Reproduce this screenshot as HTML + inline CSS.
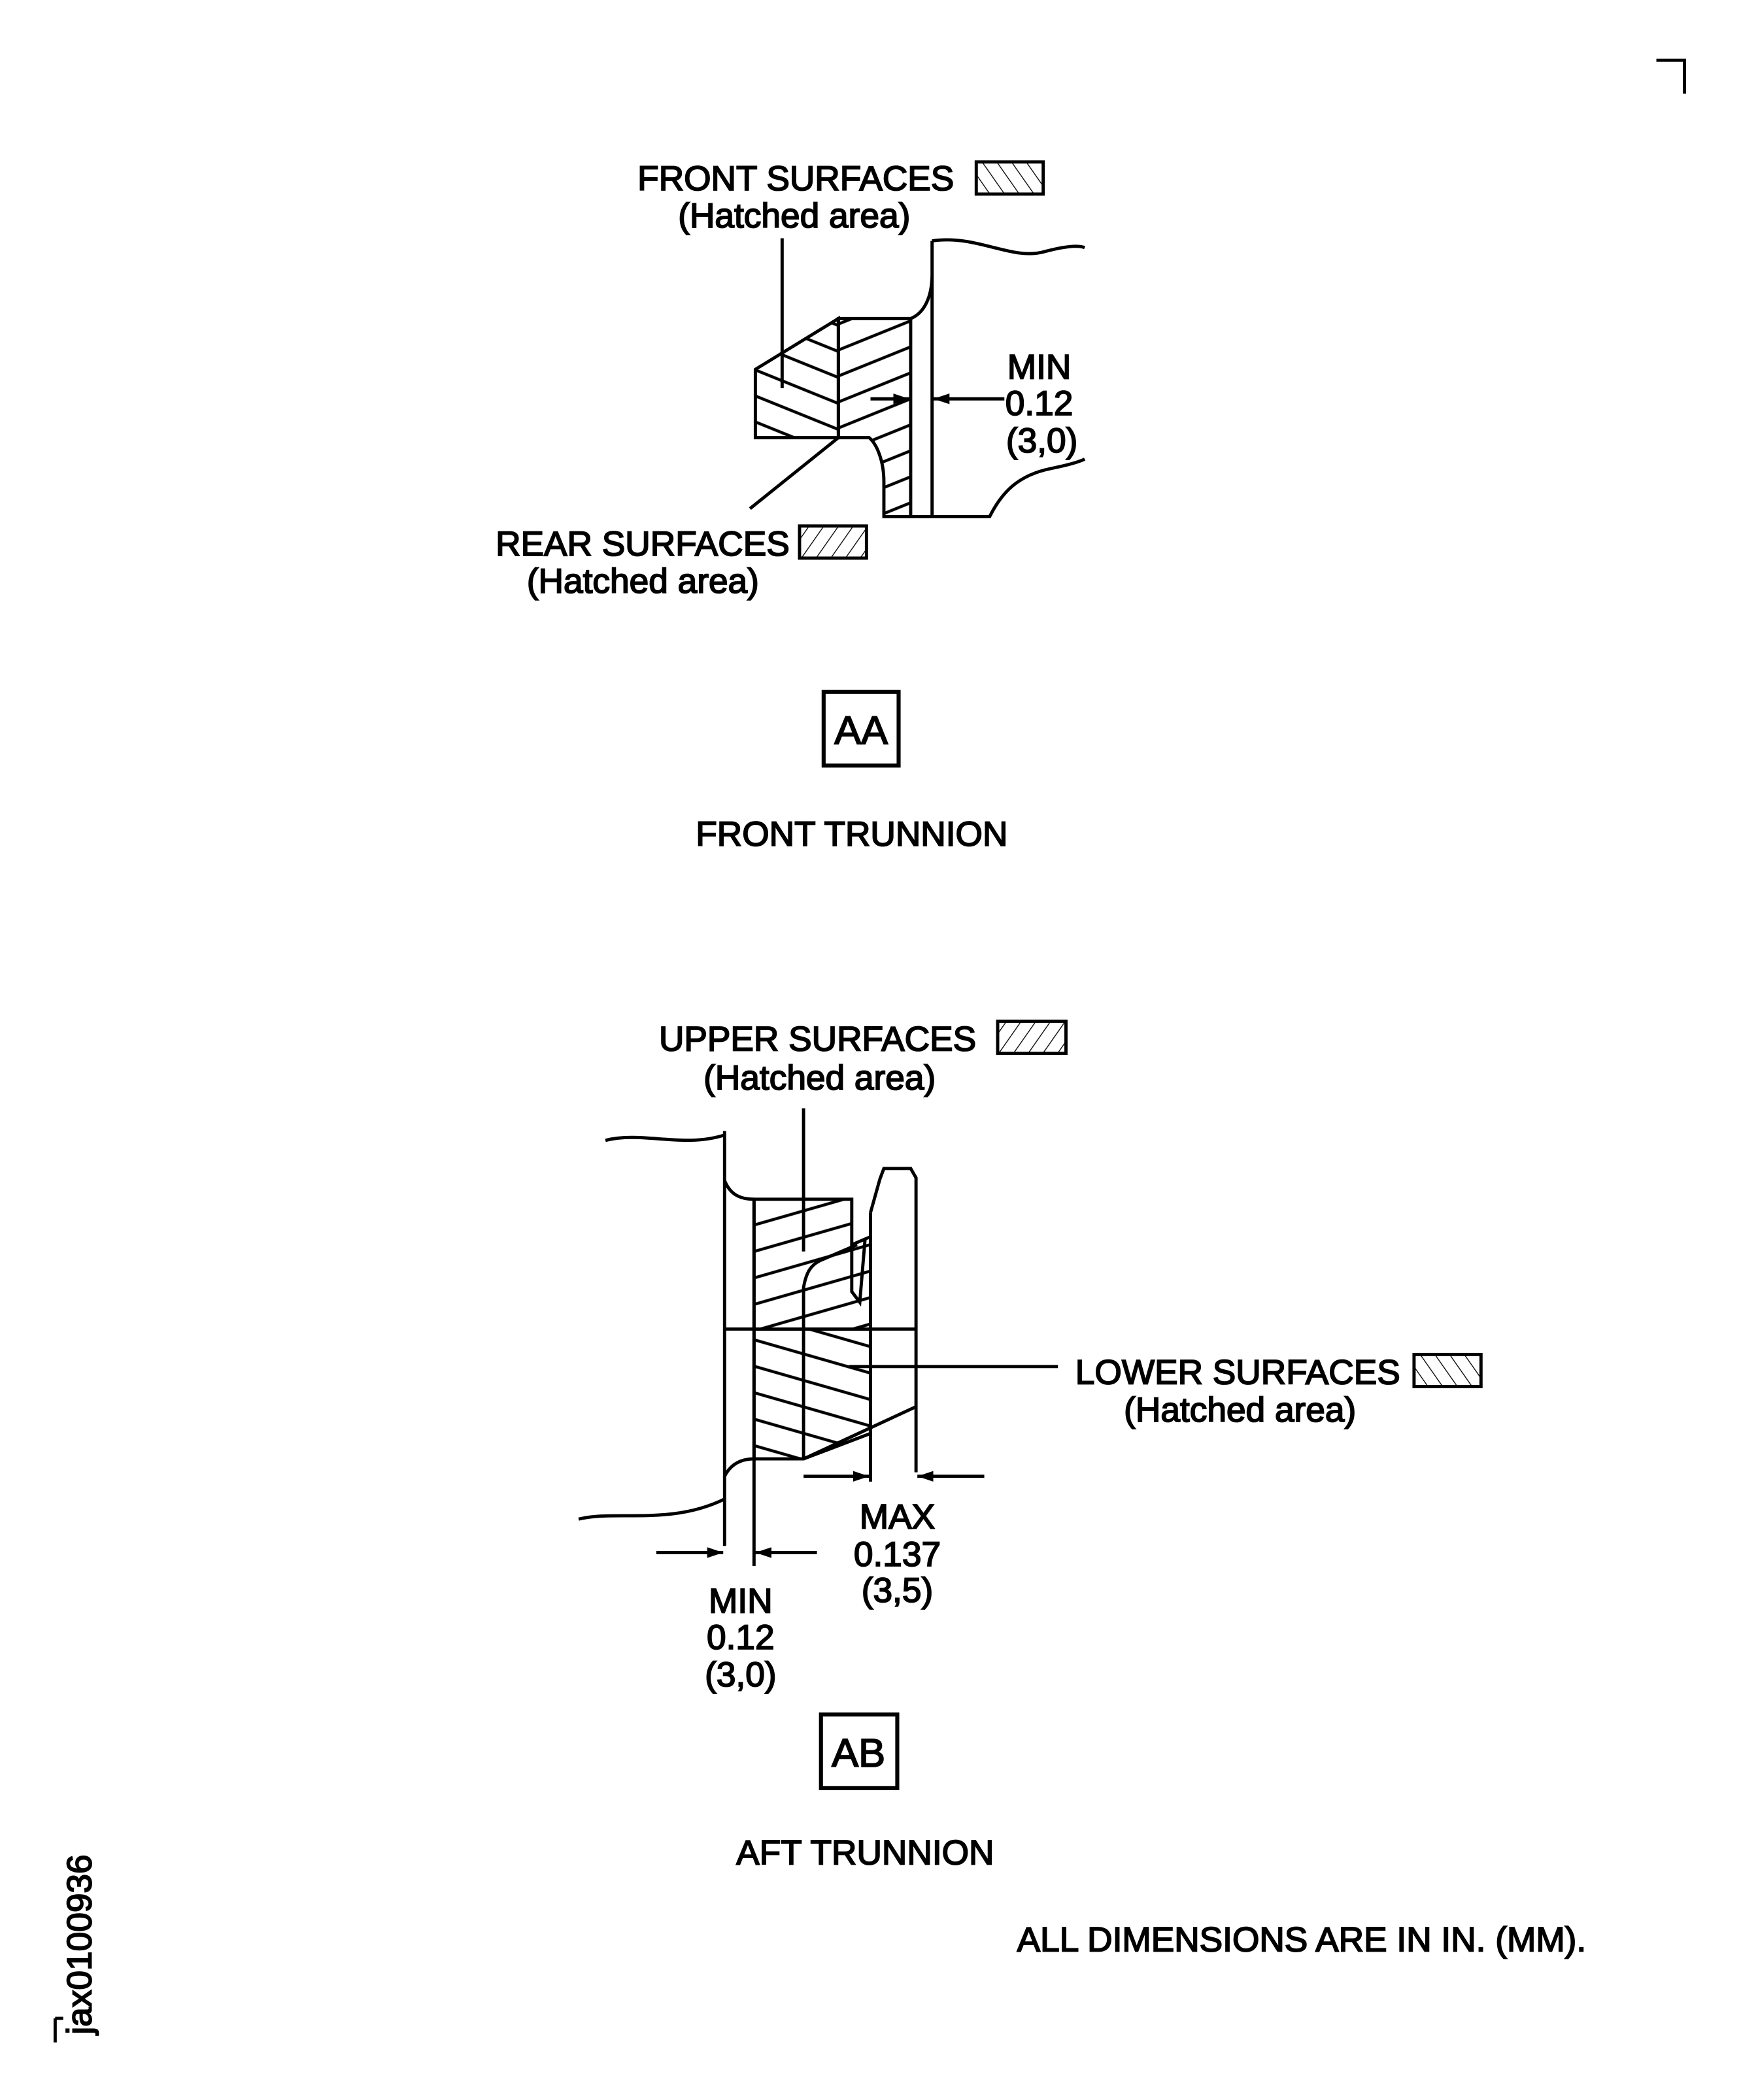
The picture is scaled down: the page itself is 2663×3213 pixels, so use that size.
<!DOCTYPE html>
<html><head><meta charset="utf-8"><style>
html,body{margin:0;padding:0;background:#fff;}
svg{display:block;}
text{font-family:"Liberation Sans",sans-serif;font-size:26px;fill:#000;stroke:#000;stroke-width:0.9px;}
</style></head><body>
<svg width="2663" height="3213" viewBox="0 0 1300 1569" xmlns="http://www.w3.org/2000/svg">
<defs>
<pattern id="fd" patternUnits="userSpaceOnUse" width="40" height="18" patternTransform="rotate(22)"><line x1="0" y1="9" x2="40" y2="9" stroke="#000" stroke-width="2.2"/></pattern>
<pattern id="fu" patternUnits="userSpaceOnUse" width="40" height="18" patternTransform="rotate(-22)"><line x1="0" y1="9" x2="40" y2="9" stroke="#000" stroke-width="2.2"/></pattern>
<pattern id="ad" patternUnits="userSpaceOnUse" width="40" height="19" patternTransform="rotate(16)"><line x1="0" y1="9" x2="40" y2="9" stroke="#000" stroke-width="2.2"/></pattern>
<pattern id="au" patternUnits="userSpaceOnUse" width="40" height="19" patternTransform="rotate(-16)"><line x1="0" y1="9" x2="40" y2="9" stroke="#000" stroke-width="2.2"/></pattern>
<pattern id="bs2" patternUnits="userSpaceOnUse" width="9" height="9" patternTransform="rotate(-35)"><line x1="0" y1="0" x2="0" y2="9" stroke="#000" stroke-width="1.3"/></pattern>
<pattern id="fs2" patternUnits="userSpaceOnUse" width="9" height="9" patternTransform="rotate(35)"><line x1="0" y1="0" x2="0" y2="9" stroke="#000" stroke-width="1.3"/></pattern>
<marker id="ar" markerWidth="12" markerHeight="8" refX="12" refY="4" orient="auto" markerUnits="userSpaceOnUse"><path d="M0,0 L12,4 L0,8 z" fill="#000"/></marker>
</defs>
<g fill="none" stroke="#000" stroke-width="2.4">
<path d="M1237,45 H1258 V70"/>
<rect x="729" y="121" width="50" height="24" fill="url(#bs2)"/>
<rect x="597" y="393" width="50" height="24" fill="url(#fs2)"/>
<path d="M564,276 L626,238 V327 H564 Z" fill="url(#fd)"/>
<path d="M626,238 H680 V386 H660 V360 C660,345 655,332 649,327 H626 Z" fill="url(#fu)"/>
<path d="M696,180 V386 M680,238 C690,234 696,222 696,205"/>
<path d="M696,180 C730,175 755,195 780,188 C795,184 805,183 810,185"/>
<path d="M660,386 H739 C748,368 760,355 785,350 C800,347 806,345 810,343"/>
<path d="M584,178 V290"/>
<path d="M560,380 L626,327"/>
<line x1="650" y1="298" x2="679" y2="298" marker-end="url(#ar)"/>
<line x1="750" y1="298" x2="697" y2="298" marker-end="url(#ar)"/>
<rect x="615" y="517" width="56" height="55" stroke-width="3"/>
<rect x="745" y="763" width="51" height="24" fill="url(#fs2)"/>
<rect x="1056" y="1012" width="50" height="24" fill="url(#bs2)"/>
<path d="M541,845 V1155"/>
<path d="M452,852 C480,845 510,858 541,848"/>
<path d="M432,1135 C460,1128 500,1140 541,1120"/>
<path d="M541,882 C545,892 552,896 563,896"/>
<path d="M541,1103 C545,1095 552,1090 563,1090"/>
<path d="M563,896 V1170"/>
<path d="M563,896 H636 V930 L650,924 V993 H563 Z" fill="url(#au)"/>
<path d="M563,993 H650 V1071 L600,1090 H563 Z" fill="url(#ad)"/>
<path d="M636,930 V965 L642,973 L646,925"/>
<path d="M600,1090 V962 C602,950 606,945 612,942 L640,930"/>
<path d="M541,993 H684"/>
<path d="M650,906 L657,881 L660,873 H680 L684,880 V1100"/>
<path d="M650,906 V1107"/>
<path d="M600,1090 L684,1051"/>
<path d="M600,828 V935"/>
<path d="M634,1021 H790"/>
<line x1="600" y1="1103" x2="649" y2="1103" marker-end="url(#ar)"/>
<line x1="735" y1="1103" x2="685" y2="1103" marker-end="url(#ar)"/>
<line x1="490" y1="1160" x2="540" y2="1160" marker-end="url(#ar)"/>
<line x1="610" y1="1160" x2="564" y2="1160" marker-end="url(#ar)"/>
<rect x="613" y="1281" width="57" height="55" stroke-width="3"/>
<path d="M41,1508 V1526 M41,1508 H47"/>
</g>
<text x="476" y="142">FRONT SURFACES</text>
<text x="593" y="170" text-anchor="middle">(Hatched area)</text>
<text x="776" y="283" text-anchor="middle">MIN</text>
<text x="776" y="310" text-anchor="middle">0.12</text>
<text x="778" y="338" text-anchor="middle">(3,0)</text>
<text x="370" y="415">REAR SURFACES</text>
<text x="480" y="443" text-anchor="middle">(Hatched area)</text>
<text x="643" y="556" text-anchor="middle" style="font-size:30px">AA</text>
<text x="636" y="632" text-anchor="middle">FRONT TRUNNION</text>
<text x="492" y="785">UPPER SURFACES</text>
<text x="612" y="814" text-anchor="middle">(Hatched area)</text>
<text x="803" y="1034">LOWER SURFACES</text>
<text x="926" y="1062" text-anchor="middle">(Hatched area)</text>
<text x="670" y="1142" text-anchor="middle">MAX</text>
<text x="670" y="1170" text-anchor="middle">0.137</text>
<text x="670" y="1197" text-anchor="middle">(3,5)</text>
<text x="553" y="1205" text-anchor="middle">MIN</text>
<text x="553" y="1232" text-anchor="middle">0.12</text>
<text x="553" y="1260" text-anchor="middle">(3,0)</text>
<text x="641" y="1320" text-anchor="middle" style="font-size:30px">AB</text>
<text x="646" y="1393" text-anchor="middle">AFT TRUNNION</text>
<text x="972" y="1458" text-anchor="middle">ALL DIMENSIONS ARE IN IN. (MM).</text>
<text transform="translate(68,1520) rotate(-90)">jax0100936</text>
</svg>
</body></html>
